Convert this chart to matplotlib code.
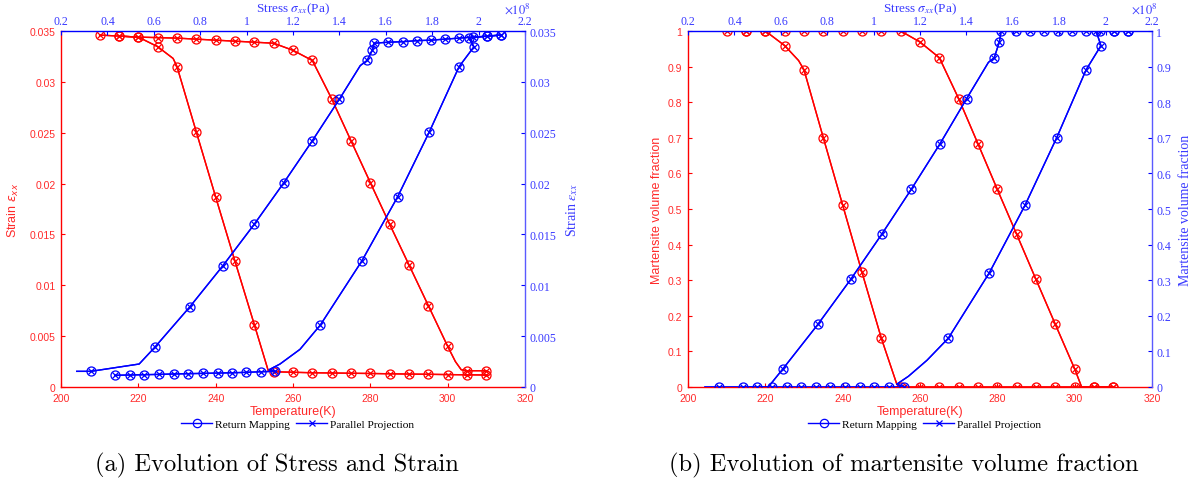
import matplotlib
matplotlib.use('Agg')
import matplotlib.pyplot as plt
from matplotlib.lines import Line2D
from matplotlib.ticker import FixedLocator, FuncFormatter

# ---------------- data ----------------
# (a) strain vs temperature (red) and strain vs stress (blue, stress in 1e8 Pa)
a_heat_T = [210, 215, 220, 225, 230, 235, 240, 245, 250, 255, 260, 265, 270, 275,
            280, 285, 290, 295, 300, 302, 303.5, 305, 310]
a_heat_e = [0.0346, 0.0345, 0.0344, 0.03435, 0.0343, 0.0342, 0.0341, 0.0340, 0.0339,
            0.0338, 0.0331, 0.0321, 0.02834, 0.02421, 0.02009, 0.0160, 0.0120, 0.0080,
            0.0040, 0.0025, 0.0017, 0.0016, 0.0016]
a_heat_skip = [19, 20]

a_cool_T = [310, 305, 300, 295, 290, 285, 280, 275, 270, 265, 260, 255, 253.6,
            250, 245, 240, 235, 230, 229, 225, 220, 215]
a_cool_e = [0.00118, 0.0012, 0.00122, 0.00125, 0.00127, 0.0013, 0.00133, 0.00135,
            0.00138, 0.0014, 0.00145, 0.0015, 0.0016, 0.00613, 0.01236, 0.01868,
            0.02507, 0.0315, 0.0323, 0.03346, 0.0344, 0.0345]
a_cool_skip = [12, 18]

a_load_s = [0.268, 0.329, 0.537, 0.604, 0.756, 0.898, 1.033, 1.161, 1.283, 1.40, 1.49,
            1.519, 1.542, 1.55, 1.611, 1.673, 1.733, 1.795, 1.855, 1.916, 1.977, 2.038, 2.097]
a_load_e = [0.00154, 0.00154, 0.00226, 0.0039, 0.0079, 0.01193, 0.0160, 0.0201, 0.0242,
            0.0283, 0.0316, 0.0321, 0.0331, 0.0338, 0.0339, 0.03395, 0.03405, 0.0341,
            0.0342, 0.0343, 0.0344, 0.0345, 0.0346]
a_load_skip = [0, 2, 10]

a_unl_s = [2.097, 2.038, 1.959, 1.980, 1.916, 1.788, 1.651, 1.497, 1.318, 1.23, 1.144,
           1.097, 1.122, 1.061, 0.997, 0.938, 0.875, 0.812, 0.749, 0.686, 0.622, 0.559,
           0.496, 0.433]
a_unl_e = [0.0346, 0.0345, 0.0343, 0.03345, 0.0315, 0.0251, 0.0187, 0.0124, 0.0061,
           0.0037, 0.00226, 0.0017, 0.00154, 0.0015, 0.00144, 0.0014, 0.00137, 0.00134,
           0.00131, 0.00128, 0.00124, 0.00121, 0.00118, 0.00115]
a_unl_skip = [9, 10, 11]

# (b) martensite volume fraction
b_heat_T = [210, 215, 220, 225, 230, 235, 240, 245, 250, 255, 260, 265, 270, 275,
            280, 285, 290, 295, 300, 301.8, 305, 310]
b_heat_f = [1.0, 1.0, 1.0, 1.0, 1.0, 1.0, 1.0, 1.0, 1.0, 1.0, 0.969, 0.925, 0.81, 0.683,
            0.555, 0.429, 0.302, 0.176, 0.051, 0.0, 0.0, 0.0]
b_heat_skip = [19]

b_cool_T = [310, 305, 300, 295, 290, 285, 280, 275, 270, 265, 260, 255, 254,
            250, 245, 240, 235, 230, 228.6, 225, 220, 215]
b_cool_f = [0.0, 0.0, 0.0, 0.0, 0.0, 0.0, 0.0, 0.0, 0.0, 0.0, 0.0, 0.0, 0.008,
            0.137, 0.322, 0.511, 0.70, 0.891, 0.917, 0.959, 1.0, 1.0]
b_cool_skip = [12, 18]

b_load_s = [0.273, 0.334, 0.546, 0.608, 0.76, 0.901, 1.035, 1.162, 1.286, 1.401, 1.495,
            1.52, 1.542, 1.55, 1.612, 1.674, 1.733, 1.795, 1.855, 1.916, 1.976, 2.038, 2.097]
b_load_f = [0.0, 0.0, 0.0, 0.05, 0.176, 0.302, 0.429, 0.555, 0.683, 0.81, 0.912,
            0.925, 0.969, 1.0, 1.0, 1.0, 1.0, 1.0, 1.0, 1.0, 1.0, 1.0, 1.0]
b_load_skip = [0, 2, 10]

b_unl_s = [2.097, 2.038, 1.959, 1.98, 1.916, 1.789, 1.653, 1.499, 1.322, 1.23, 1.15,
           1.10, 1.13, 1.066, 1.003, 0.94, 0.877, 0.814, 0.751, 0.689, 0.626, 0.563,
           0.499, 0.436]
b_unl_f = [1.0, 1.0, 1.0, 0.959, 0.891, 0.70, 0.511, 0.321, 0.137, 0.075, 0.03,
           0.008, 0.0, 0.0, 0.0, 0.0, 0.0, 0.0, 0.0, 0.0, 0.0, 0.0, 0.0, 0.0]
b_unl_skip = [9, 10, 11]

temp_ticks = [200, 220, 240, 260, 280, 300, 320]
stress_ticks = [0.2, 0.4, 0.6, 0.8, 1.0, 1.2, 1.4, 1.6, 1.8, 2.0, 2.2]
strain_ticks = [0, 0.005, 0.01, 0.015, 0.02, 0.025, 0.03, 0.035]
frac_ticks = [0, 0.1, 0.2, 0.3, 0.4, 0.5, 0.6, 0.7, 0.8, 0.9, 1.0]

# ---------------- style ----------------
RED = '#ff0000'
BLUE = '#0000ff'
RED_T = '#ff2a2a'
BLUE_T = '#3a3aff'
SANS = 'Liberation Sans'
SERIF = 'Liberation Serif'

fig = plt.figure(figsize=(11.98, 4.85), dpi=100)
W, H = 1198.0, 485.0


def fmt(v, pos=None):
    return '%g' % v


def draw(ax, x, y, skip, color):
    idx = [i for i in range(len(x)) if i not in skip]
    ax.plot(x, y, '-', color=color, lw=1.0, marker='o', ms=6.5, mfc='none',
            mew=0.9, markevery=idx, zorder=3)
    ax.plot(x, y, '-', color=color, lw=1.0, marker='x', ms=4.8,
            mew=0.9, markevery=idx, zorder=3)


def panel(x0px, yticks, ylim, ylabel_l, ylabel_r, ylab_lx, ylab_rx, red_curves, blue_curves, caption):
    rect = [x0px / W, 1 - 388 / H, 464 / W, 356 / H]
    ax = fig.add_axes(rect)
    ax2 = fig.add_axes(rect)
    ax2.patch.set_visible(False)

    for c in red_curves:
        draw(ax, *c, RED)
    for c in blue_curves:
        draw(ax2, *c, BLUE)

    ax.set_xlim(200, 320)
    ax.set_ylim(*ylim)
    ax2.set_xlim(0.2, 2.2)
    ax2.set_ylim(*ylim)

    ax.xaxis.set_major_locator(FixedLocator(temp_ticks))
    ax.yaxis.set_major_locator(FixedLocator(yticks))
    ax.xaxis.set_major_formatter(FuncFormatter(fmt))
    ax.yaxis.set_major_formatter(FuncFormatter(fmt))
    ax2.xaxis.set_major_locator(FixedLocator(stress_ticks))
    ax2.yaxis.set_major_locator(FixedLocator(yticks))
    ax2.xaxis.set_major_formatter(FuncFormatter(fmt))
    ax2.yaxis.set_major_formatter(FuncFormatter(fmt))

    for s in ['top', 'right']:
        ax.spines[s].set_visible(False)
    for s in ['bottom', 'left']:
        ax2.spines[s].set_visible(False)
    ax.spines['bottom'].set_color(RED)
    ax.spines['left'].set_color(RED)
    ax2.spines['top'].set_color(BLUE)
    ax2.spines['right'].set_color('#5a5aff')
    for sp in list(ax.spines.values()) + list(ax2.spines.values()):
        sp.set_linewidth(1.0)

    ax.tick_params(axis='both', direction='in', length=3, width=0.8, colors=RED,
                   labelcolor=RED_T, labelsize=7.5, pad=4, top=False, right=False)
    ax2.tick_params(axis='both', direction='in', length=3, width=0.8, colors=BLUE,
                    labelcolor=BLUE_T, labelsize=8.6, pad=3,
                    top=True, labeltop=True, bottom=False, labelbottom=False,
                    right=True, labelright=True, left=False, labelleft=False)
    for lab in ax.get_xticklabels() + ax.get_yticklabels():
        lab.set_fontfamily(SANS)
    for lab in ax2.get_xticklabels() + ax2.get_yticklabels():
        lab.set_fontfamily(SERIF)

    ax.set_xlabel('Temperature(K)', color=RED_T, fontsize=9, fontfamily=SANS,
                  va='center')
    ax.xaxis.set_label_coords(0.5, -0.067)
    ax.set_ylabel(ylabel_l, color=RED_T, fontsize=9, fontfamily=SANS,
                  math_fontfamily='dejavusans', va='center')
    ax.yaxis.set_label_coords(ylab_lx, 0.5)

    ax2.xaxis.set_label_position('top')
    ax2.yaxis.set_label_position('right')
    ax2.set_xlabel(r'Stress $\sigma_{xx}$(Pa)', color=BLUE_T, fontsize=9.5,
                   fontfamily=SERIF, math_fontfamily='stix', va='center')
    ax2.xaxis.set_label_coords(0.5, 1.064)
    ax2.set_ylabel(ylabel_r, color=BLUE_T, fontsize=10, fontfamily=SERIF,
                   math_fontfamily='stix', rotation=90, va='center')
    ax2.yaxis.set_label_coords(ylab_rx, 0.5)
    ax2.text(0.955, 1.065, r'$\times 10^{8}$', transform=ax2.transAxes, color=BLUE_T,
             fontsize=9, math_fontfamily='stix', ha='left', va='center')

    handles = [Line2D([], [], color=BLUE, lw=1.0, marker='o', ms=6, mfc='none', mew=0.9),
               Line2D([], [], color=BLUE, lw=1.0, marker='x', ms=4.5, mew=0.9)]
    ax.legend(handles, ['Return Mapping', 'Parallel Projection'], loc='center',
              bbox_to_anchor=(0.51, -0.103), ncol=2, frameon=False,
              prop={'family': SERIF, 'size': 8.2}, handlelength=2.7,
              handletextpad=0.25, columnspacing=0.6, borderaxespad=0,
              borderpad=0.1)

    fig.text((x0px + 232 - 16) / W, 1 - 465 / H, caption, ha='center', va='center',
             fontsize=17.7, fontfamily='cmr10')
    return ax, ax2


panel(61, strain_ticks, (0, 0.035), r'Strain $\epsilon_{xx}$', r'Strain $\epsilon_{xx}$',
      -0.103, 1.101,
      [(a_heat_T, a_heat_e, a_heat_skip), (a_cool_T, a_cool_e, a_cool_skip)],
      [(a_load_s, a_load_e, a_load_skip), (a_unl_s, a_unl_e, a_unl_skip)],
      '(a) Evolution of Stress and Strain')

panel(688, frac_ticks, (0, 1.0), 'Martensite volume fraction', 'Martensite volume fraction',
      -0.067, 1.073,
      [(b_heat_T, b_heat_f, b_heat_skip), (b_cool_T, b_cool_f, b_cool_skip)],
      [(b_load_s, b_load_f, b_load_skip), (b_unl_s, b_unl_f, b_unl_skip)],
      '(b) Evolution of martensite volume fraction')

fig.savefig('out.png', dpi=100)
